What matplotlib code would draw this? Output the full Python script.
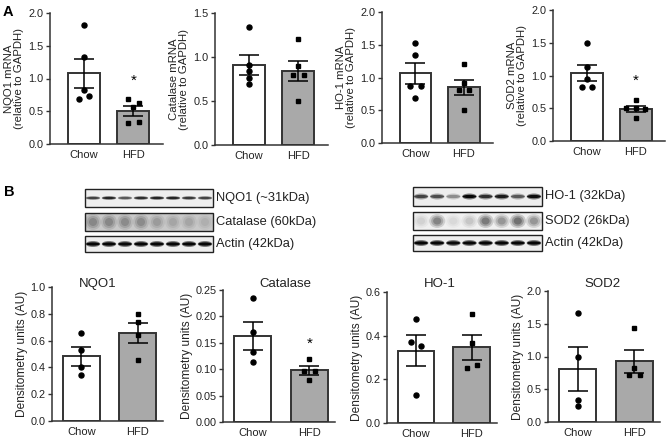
import matplotlib
matplotlib.use("Agg")
import matplotlib.pyplot as plt
from matplotlib.patches import Rectangle, Ellipse
from matplotlib.ticker import FormatStrFormatter
import numpy as np

plt.rcParams['font.family'] = ['Liberation Sans', 'DejaVu Sans']

W, H = 669, 443
groups = ["Chow", "HFD"]

# ---- Panel A: mRNA (relative to GAPDH) ----
nqo1_mrna_chow = [1.81, 1.33, 0.83, 0.69, 0.73]
nqo1_mrna_hfd = [0.69, 0.62, 0.56, 0.32, 0.34]
cat_mrna_chow = [1.34, 0.907, 0.839, 0.763, 0.695]
cat_mrna_hfd = [1.20, 0.90, 0.80, 0.80, 0.50]
ho1_mrna_chow = [1.53, 1.35, 0.87, 0.87, 0.69]
ho1_mrna_hfd = [1.205, 0.91, 0.81, 0.81, 0.506]
sod2_mrna_chow = [1.49, 1.135, 0.94, 0.82, 0.82]
sod2_mrna_hfd = [0.626, 0.51, 0.50, 0.49, 0.346]

# ---- Panel B: densitometry (AU) ----
nqo1_prot_chow = [0.656, 0.53, 0.40, 0.344]
nqo1_prot_hfd = [0.80, 0.736, 0.643, 0.456]
cat_prot_chow = [0.234, 0.171, 0.133, 0.113]
cat_prot_hfd = [0.119, 0.097, 0.096, 0.0795]
ho1_prot_chow = [0.476, 0.369, 0.353, 0.129]
ho1_prot_hfd = [0.497, 0.368, 0.266, 0.254]
sod2_prot_chow = [1.67, 0.99, 0.34, 0.24]
sod2_prot_hfd = [1.43, 0.83, 0.72, 0.72]

# blot band intensities (8 lanes)
blot_nqo1 = [0.6, 0.75, 0.5, 0.7, 0.75, 0.75, 0.65, 0.6]
blot_cat = [0.3, 0.3, 0.28, 0.28, 0.2, 0.15, 0.15, 0.1]
blot_actin_l = [0.95, 0.95, 0.92, 0.95, 0.95, 0.95, 0.95, 0.95]
blot_ho1 = [0.6, 0.55, 0.3, 0.95, 0.7, 0.8, 0.5, 0.9]
blot_sod2 = [0.1, 0.45, 0.08, 0.15, 0.5, 0.35, 0.55, 0.35]
blot_actin_r = [0.95, 0.95, 0.92, 0.95, 0.95, 0.95, 0.95, 0.95]

EDGE = "#333333"
GRAY = "#a9a9a9"
TXT = "#222222"


def add_ax(left, right, y0, ytop):
    return fig.add_axes([left / W, (H - y0) / H, (right - left) / W, (y0 - ytop) / H])


def panel(ax, chow, hfd, dx_c, dx_h, xlim, bw, ylim, yticks, fmt, ylabel,
          star=None, fs_lab=8.2, labelpad=3):
    vals = [chow, hfd]
    means = [np.mean(v) for v in vals]
    sems = [np.std(v, ddof=1) / np.sqrt(len(v)) for v in vals]
    ax.bar([0, 1], means, width=bw, color=["white", GRAY], edgecolor=EDGE,
           linewidth=1.4, zorder=2)
    ax.plot(np.zeros(len(chow)) + np.array(dx_c), chow, 'o', color='black',
            ms=3.6, zorder=3, clip_on=False)
    ax.plot(np.ones(len(hfd)) + np.array(dx_h), hfd, 's', color='black',
            ms=3.4, zorder=3, clip_on=False)
    ax.errorbar([0, 1], means, yerr=sems, fmt='none', ecolor='black',
                elinewidth=1.1, capsize=7, capthick=1.1, zorder=4)
    if star is not None:
        ax.text(1, star, "*", ha='center', va='center', fontsize=11)
    ax.set_xlim(*xlim)
    ax.set_ylim(*ylim)
    ax.set_yticks(yticks)
    ax.yaxis.set_major_formatter(FormatStrFormatter(fmt))
    ax.set_xticks([0, 1])
    ax.set_xticklabels(groups)
    for s in ["top", "right"]:
        ax.spines[s].set_visible(False)
    for s in ["left", "bottom"]:
        ax.spines[s].set_color(EDGE)
        ax.spines[s].set_linewidth(1.1)
    ax.tick_params(axis='y', direction='out', length=3, width=1.0, color=EDGE,
                   labelsize=7.8, pad=1.5, labelcolor=TXT)
    ax.tick_params(axis='x', length=0, labelsize=8, pad=4, labelcolor=TXT)
    ax.set_ylabel(ylabel, fontsize=fs_lab, labelpad=labelpad, color=TXT,
                  linespacing=1.1)
    ax.patch.set_alpha(0)


fig = plt.figure(figsize=(W / 100, H / 100), dpi=100)

xl_top = (-0.69, 1.6)
bw_top = 0.65
j = 0.11
ax = add_ax(50, 163, 144, 13)
panel(ax, nqo1_mrna_chow, nqo1_mrna_hfd, [0, 0, 0, -j, j], [-j, j, 0, -j, j],
      xl_top, bw_top, (0, 2.0), [0, 0.5, 1.0, 1.5, 2.0], "%.1f",
      "NQO1 mRNA\n(relative to GAPDH)", star=0.97)
ax = add_ax(215, 328, 145, 13)
panel(ax, cat_mrna_chow, cat_mrna_hfd, [0, 0, 0, 0, 0], [0, 0, -j, j, 0],
      xl_top, bw_top, (0, 1.5), [0, 0.5, 1.0, 1.5], "%.1f",
      "Catalase mRNA\n(relative to GAPDH)")
ax = add_ax(382, 493, 143, 12)
panel(ax, ho1_mrna_chow, ho1_mrna_hfd, [0, 0, -j, j, 0], [0, 0, -j, j, 0],
      xl_top, bw_top, (0, 2.0), [0, 0.5, 1.0, 1.5, 2.0], "%.1f",
      "HO-1 mRNA\n(relative to GAPDH)")
ax = add_ax(553, 665, 141, 10)
panel(ax, sod2_mrna_chow, sod2_mrna_hfd, [0, 0, 0, -0.1, 0.1], [0, -0.2, 0, 0.2, 0],
      xl_top, bw_top, (0, 2.0), [0, 0.5, 1.0, 1.5, 2.0], "%.1f",
      "SOD2 mRNA\n(relative to GAPDH)", star=0.92)

xl_bot = (-0.52, 1.45)
bw_bot = 0.66
dl = "Densitometry units (AU)"
ax = add_ax(52, 163, 421, 287)
panel(ax, nqo1_prot_chow, nqo1_prot_hfd, [0] * 4, [0] * 4, xl_bot, bw_bot,
      (0, 1.0), [0, 0.2, 0.4, 0.6, 0.8, 1.0], "%.1f", dl, fs_lab=8.6, labelpad=2)
ax = add_ax(223, 335, 422, 290)
panel(ax, cat_prot_chow, cat_prot_hfd, [0] * 4, [0, -0.09, 0.09, 0], xl_bot, bw_bot,
      (0, 0.25), [0, 0.05, 0.10, 0.15, 0.20, 0.25], "%.2f", dl, star=0.149,
      fs_lab=8.6, labelpad=2)
ax = add_ax(387, 497, 423, 292)
panel(ax, ho1_prot_chow, ho1_prot_hfd, [0, -0.09, 0.09, 0], [0, 0, 0.09, -0.09],
      xl_bot, bw_bot, (0, 0.6), [0, 0.2, 0.4, 0.6], "%.1f", dl, fs_lab=8.6, labelpad=2)
ax = add_ax(548, 660, 422, 291)
panel(ax, sod2_prot_chow, sod2_prot_hfd, [0] * 4, [0, 0, -0.09, 0.09], xl_bot, bw_bot,
      (0, 2.0), [0, 0.5, 1.0, 1.5, 2.0], "%.1f", dl, fs_lab=8.6, labelpad=2)

# overlay in pixel coordinates for blots, titles, panel letters
ov = fig.add_axes([0, 0, 1, 1])
ov.set_xlim(0, W)
ov.set_ylim(H, 0)
ov.axis('off')
ov.patch.set_alpha(0)

ov.text(3, 12, "A", fontsize=10.5, fontweight='bold', va='center', ha='left')
ov.text(4, 192, "B", fontsize=10.5, fontweight='bold', va='center', ha='left')

for x, t in [(98, "NQO1"), (285, "Catalase"), (440, "HO-1"), (602, "SOD2")]:
    ov.text(x, 284, t, fontsize=9.5, ha='center', va='center', color=TXT)


def blot(x0, x1, y0, y1, intens, band_h, bg="#eeeeee", diffuse=False):
    ov.add_patch(Rectangle((x0, y0), x1 - x0, y1 - y0, facecolor=bg,
                           edgecolor='#222222', lw=1.0, zorder=1))
    n = len(intens)
    lw_ = (x1 - x0) / n
    yc = (y0 + y1) / 2
    for i, a in enumerate(intens):
        xc = x0 + (i + 0.5) * lw_
        if diffuse:
            for s, f in [(1.0, 0.3), (0.75, 0.4), (0.5, 0.5)]:
                ov.add_patch(Ellipse((xc, yc), lw_ * 1.0 * s, band_h * s,
                                     facecolor='black', alpha=a * f, lw=0, zorder=2))
        else:
            ov.add_patch(Ellipse((xc, yc), lw_ * 0.9, band_h,
                                 facecolor='black', alpha=a * 0.5, lw=0, zorder=2))
            ov.add_patch(Ellipse((xc, yc), lw_ * 0.85, band_h * 0.55,
                                 facecolor='black', alpha=a, lw=0, zorder=2))


blot(85, 213, 189, 207, blot_nqo1, 4)
blot(85, 213, 213, 231, blot_cat, 16, bg="#c8c8c8", diffuse=True)
blot(85, 213, 236, 252, blot_actin_l, 6)
blot(413, 542, 187, 206, blot_ho1, 6)
blot(413, 542, 212, 230, blot_sod2, 14, bg="#f0f0f0", diffuse=True)
blot(413, 542, 235, 251, blot_actin_r, 6)

for y, t in [(198, "NQO1 (~31kDa)"), (222, "Catalase (60kDa)"), (244, "Actin (42kDa)")]:
    ov.text(216, y, t, fontsize=9.3, va='center', ha='left', color=TXT)
for y, t in [(196, "HO-1 (32kDa)"), (221, "SOD2 (26kDa)"), (243, "Actin (42kDa)")]:
    ov.text(545, y, t, fontsize=9.3, va='center', ha='left', color=TXT)

fig.savefig("out.png", dpi=100)
